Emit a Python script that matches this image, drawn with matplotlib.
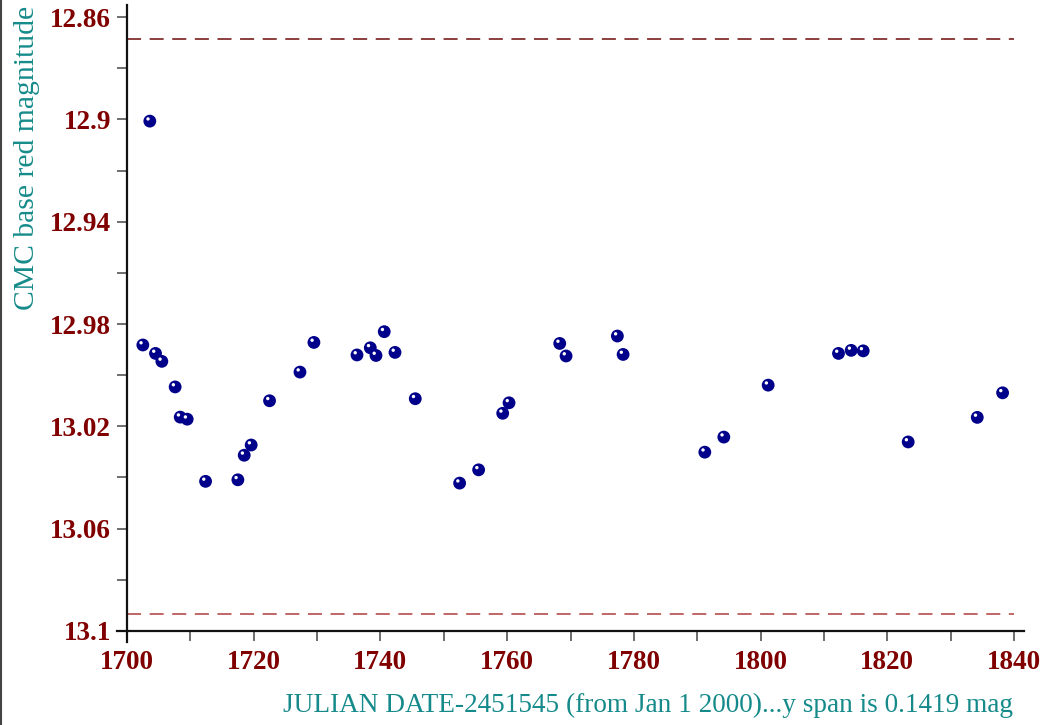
import matplotlib
matplotlib.use("Agg")
import matplotlib.pyplot as plt
import matplotlib.transforms as mtransforms
from matplotlib.lines import Line2D
from matplotlib.ticker import MultipleLocator, FixedLocator

# ---- data ----
jd = [1702.5, 1703.6, 1704.5, 1705.5, 1707.6, 1708.4, 1709.5, 1712.4, 1717.5, 1718.5,
      1719.6, 1722.5, 1727.3, 1729.5, 1736.3, 1738.4, 1739.3, 1740.6, 1742.3, 1745.5,
      1752.5, 1755.5, 1759.3, 1760.3, 1768.3, 1769.3, 1777.4, 1778.3, 1791.2, 1794.2,
      1801.2, 1812.3, 1814.3, 1816.2, 1823.3, 1834.2, 1838.2]
mag = [12.9882, 12.9007, 12.9915, 12.9946, 13.0046, 13.0164, 13.0172, 13.0415, 13.0409, 13.0313,
       13.0273, 13.0100, 12.9988, 12.9872, 12.9921, 12.9893, 12.9923, 12.9830, 12.9911, 13.0092,
       13.0422, 13.0370, 13.0149, 13.0108, 12.9876, 12.9925, 12.9847, 12.9919, 13.0301, 13.0242,
       13.0039, 12.9915, 12.9903, 12.9905, 13.0261, 13.0165, 13.0069]
upper_ref = 12.8687
lower_ref = 13.0934
ref_x = [1700, 1840]
x_ticks = [1700, 1720, 1740, 1760, 1780, 1800, 1820, 1840]
y_ticks = [12.86, 12.9, 12.94, 12.98, 13.02, 13.06, 13.1]
y_tick_labels = ["12.86", "12.9", "12.94", "12.98", "13.02", "13.06", "13.1"]
xlabel = "JULIAN DATE-2451545 (from Jan 1 2000)...y span is 0.1419 mag"
ylabel = "CMC base red magnitude"

plt.rcParams['font.family'] = ['Liberation Serif', 'DejaVu Serif']

W, H = 1045, 725
fig = plt.figure(figsize=(W / 100, H / 100), dpi=100)
fig.patch.set_facecolor('white')
ax = fig.add_axes([117 / W, (H - 642) / H, (1024 - 117) / W, (642 - 5) / H])

# reference lines
ax.plot(ref_x, [upper_ref, upper_ref], color='#6e0c0c', lw=1.1, dashes=(9.2, 5.6), zorder=2)
ax.plot(ref_x, [lower_ref, lower_ref], color='#b03c3c', lw=1.1, dashes=(9.2, 5.6), zorder=2)

# points with highlight
ax.scatter(jd, mag, s=85, color='#00008b', edgecolors='none', zorder=3)
off = mtransforms.ScaledTranslation(-1.8 / 100, 2.2 / 100, fig.dpi_scale_trans)
ax.scatter(jd, mag, s=6, color='white', edgecolors='none', zorder=4,
           transform=ax.transData + off)

ax.set_xlim(1700 - 10 / 6.336, 1840 + 10 / 6.336)
ax.set_ylim(13.1 + 11 / 2558, 12.86 - 12 / 2558)

for s in ('top', 'right'):
    ax.spines[s].set_visible(False)
ax.spines['left'].set_position(('data', 1700))
ax.spines['bottom'].set_position(('data', 13.1))
for s in ('left', 'bottom'):
    ax.spines[s].set_linewidth(1.6)
    ax.spines[s].set_color('#111111')

ax.xaxis.set_major_locator(FixedLocator(x_ticks))
ax.xaxis.set_minor_locator(MultipleLocator(10))
ax.yaxis.set_major_locator(FixedLocator(y_ticks))
ax.yaxis.set_minor_locator(FixedLocator([12.88, 12.92, 12.96, 13.0, 13.04, 13.08]))
ax.set_yticklabels(y_tick_labels)
ax.set_xticklabels([str(v) for v in x_ticks])

ax.tick_params(which='both', direction='out', length=7.5, width=1.2, color='#555555')
ax.tick_params(axis='both', which='major', labelsize=19.5, labelcolor='#800000', pad=4)
ax.tick_params(axis='x', which='major', pad=6)
for lab in ax.get_xticklabels() + ax.get_yticklabels():
    lab.set_fontweight('bold')

fig.text(1013 / W, (H - 705) / H, xlabel, ha='right', va='center', color='#168a8a',
         fontsize=19.6)
fig.text(27 / W, 1 - 6 / H, ylabel, ha='center', va='top', rotation=90, color='#168a8a',
         fontsize=21.3)

fig.add_artist(Line2D([1 / W, 1 / W], [0, 1], color='#444444', lw=1.5,
                      transform=fig.transFigure))

fig.savefig('out.png', dpi=100, facecolor='white')
